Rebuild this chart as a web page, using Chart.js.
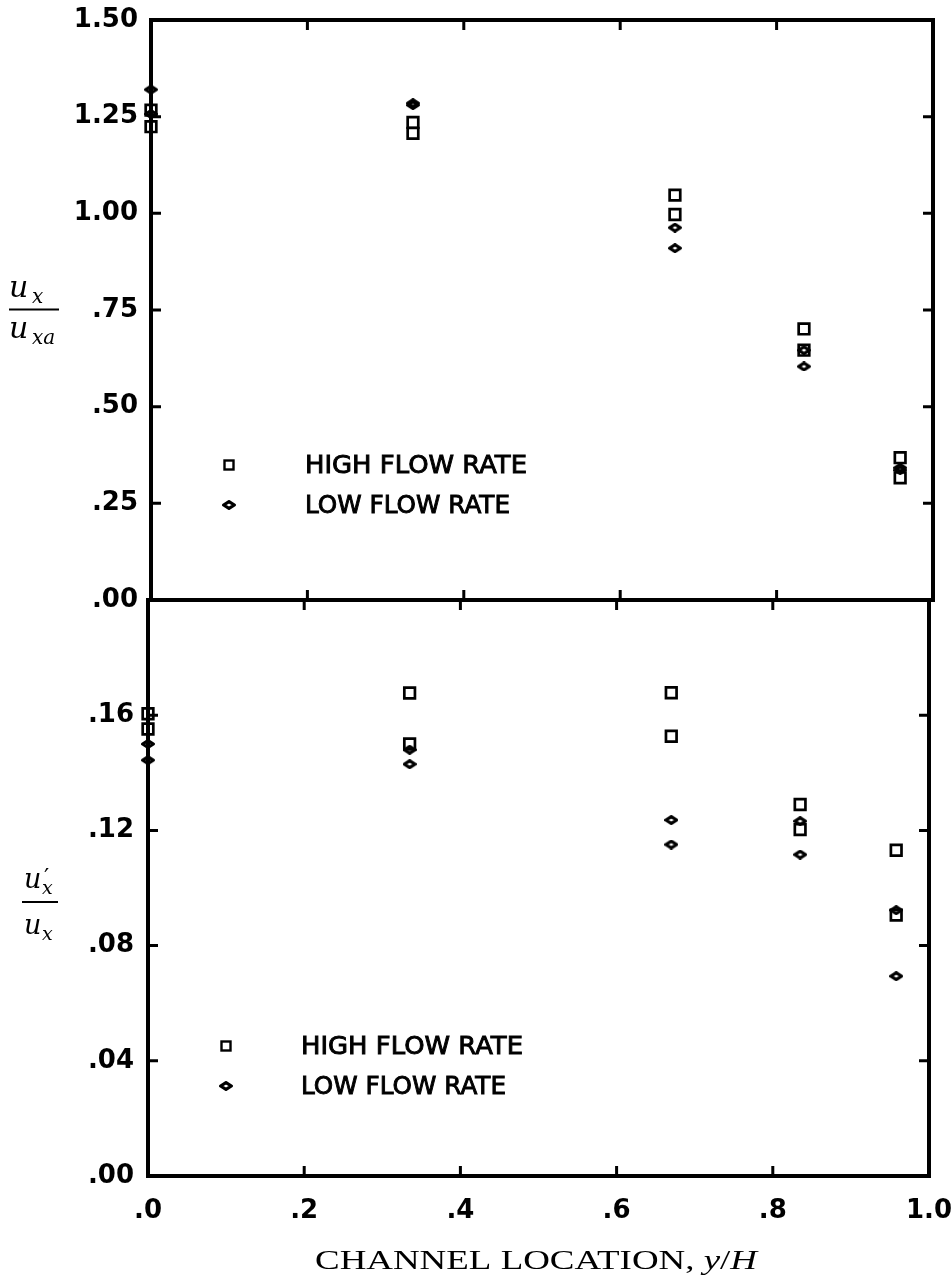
<!DOCTYPE html>
<html>
<head>
<meta charset="utf-8">
<script src="https://cdn.jsdelivr.net/npm/chart.js@4"></script>
<style>
  html, body { margin: 0; padding: 0; background: #fff; }
  body { width: 951px; height: 1288px; position: relative; overflow: hidden; }
  canvas { position: absolute; left: 0; }
  #meanChart { top: 0; }
  #turbChart { top: 590px; }
</style>
</head>
<body>
<canvas id="meanChart" width="951" height="630"></canvas>
<canvas id="turbChart" width="951" height="698"></canvas>
<script>
// channel location y/H of each probe station
const locations = [0, 0.335, 0.67, 0.835, 0.958];

// mean velocity u_x / u_xa (two runs per flow rate)
const highMeanA = [1.267, 1.235, 1.047, 0.701, 0.368];
const highMeanB = [1.224, 1.207, 0.997, 0.646, 0.316];
const lowMeanA  = [1.320, 1.285, 0.963, 0.646, 0.342];
const lowMeanB  = [1.257, 1.280, 0.910, 0.604, 0.336];

// turbulence intensity u'_x / u_x
const highTurbA = [0.1605, 0.1677, 0.1678, 0.1290, 0.1131];
const highTurbB = [0.1552, 0.1500, 0.1527, 0.1203, 0.0906];
const lowTurbA  = [0.1500, 0.1480, 0.1236, 0.1232, 0.0923];
const lowTurbB  = [0.1444, 0.1430, 0.1151, 0.1116, 0.0694];

// tick values
const xTicks = [0, 0.2, 0.4, 0.6, 0.8, 1.0];
const meanTicks = [0, 0.25, 0.5, 0.75, 1.0, 1.25, 1.5];
const turbTicks = [0, 0.04, 0.08, 0.12, 0.16];

const tickFont = { family: 'DejaVu Sans', weight: 'bold', size: 26 };
const fmt2 = v => v.toFixed(2).replace(/^0\./, '.');
const fmt1 = v => v.toFixed(1).replace(/^0\./, '.');

function makeDiamond(w, h, lw) {
  const c = document.createElement('canvas');
  c.width = w; c.height = h;
  const g = c.getContext('2d');
  g.strokeStyle = '#000';
  g.lineWidth = lw;
  g.lineJoin = 'round';
  g.beginPath();
  g.moveTo(lw / 2, h / 2);
  g.lineTo(w / 2, lw / 2);
  g.lineTo(w - lw / 2, h / 2);
  g.lineTo(w / 2, h - lw / 2);
  g.closePath();
  g.stroke();
  return c;
}
const diamond = makeDiamond(14, 10, 3.2);

function pts(ys) {
  return locations.map((x, i) => ({ x: x, y: ys[i] }));
}
function squareSet(label, ys) {
  return { label, data: pts(ys), pointStyle: 'rect', pointRadius: 7.5, borderWidth: 2.7,
    borderColor: '#000', backgroundColor: 'rgba(0,0,0,0)', showLine: false, clip: false };
}
function diamondSet(label, ys) {
  return { label, data: pts(ys), pointStyle: diamond, pointRadius: 6, borderWidth: 0,
    borderColor: '#000', backgroundColor: '#000', showLine: false, clip: false };
}

// box with inward tick marks on all four sides
const framePlugin = {
  id: 'frame',
  beforeDatasetsDraw(chart) {
    const { ctx, chartArea: a, scales } = chart;
    ctx.save();
    ctx.strokeStyle = '#000';
    ctx.lineWidth = 4;
    ctx.strokeRect(a.left, a.top, a.right - a.left, a.bottom - a.top);
    ctx.lineWidth = 3;
    const len = 10;
    scales.x.ticks.forEach(t => {
      if (t.value <= scales.x.min || t.value >= scales.x.max) return;
      const px = scales.x.getPixelForValue(t.value);
      ctx.beginPath();
      ctx.moveTo(px, a.top); ctx.lineTo(px, a.top + len);
      ctx.moveTo(px, a.bottom); ctx.lineTo(px, a.bottom - len);
      ctx.stroke();
    });
    scales.y.ticks.forEach(t => {
      if (t.value <= scales.y.min || t.value >= scales.y.max) return;
      const py = scales.y.getPixelForValue(t.value);
      ctx.beginPath();
      ctx.moveTo(a.left, py); ctx.lineTo(a.left + len, py);
      ctx.moveTo(a.right, py); ctx.lineTo(a.right - len, py);
      ctx.stroke();
    });
    ctx.restore();
  }
};

function fitText(ctx, text, x, y, width) {
  const w = ctx.measureText(text).width;
  ctx.save();
  ctx.translate(x, y);
  ctx.scale(width / w, 1);
  ctx.fillText(text, 0, 0);
  ctx.strokeText(text, 0, 0);
  ctx.restore();
}

// legend, y-axis fraction and x title
const decorPlugin = {
  id: 'decor',
  afterDraw(chart, args, o) {
    const ctx = chart.ctx;
    ctx.save();
    ctx.fillStyle = '#000';
    ctx.strokeStyle = '#000';

    // legend
    const L = o.legend;
    ctx.lineWidth = 2.4;
    ctx.strokeRect(L.x - 4.5, L.yHigh - 4.5, 9, 9);
    ctx.drawImage(diamond, L.x - diamond.width / 2, L.yLow - diamond.height / 2);
    ctx.font = '24px "DejaVu Sans"';
    ctx.textBaseline = 'middle';
    ctx.lineWidth = 0.9;
    fitText(ctx, 'HIGH FLOW RATE', L.textX, L.yHigh + 2, 222);
    fitText(ctx, 'LOW FLOW RATE', L.textX, L.yLow + 2, 205);

    // fraction label
    const F = o.fraction;
    ctx.textBaseline = 'alphabetic';
    ctx.font = 'italic ' + F.size + 'px "DejaVu Serif"';
    ctx.fillText('u', F.x, F.numBase);
    ctx.fillText('u', F.x, F.denBase);
    ctx.font = 'italic ' + F.sub + 'px "DejaVu Serif"';
    ctx.fillText(F.numSub, F.subX, F.numBase + 6);
    ctx.fillText(F.denSub, F.subX, F.denBase + 6);
    if (F.prime) {
      ctx.font = (F.sub + 4) + 'px "DejaVu Serif"';
      ctx.fillText('\u2032', F.subX + 2, F.numBase - 4);
    }
    ctx.lineWidth = 2;
    ctx.beginPath();
    ctx.moveTo(F.lineX0, F.lineY);
    ctx.lineTo(F.lineX1, F.lineY);
    ctx.stroke();

    // x-axis title
    if (o.title) {
      const T = o.title;
      const parts = [
        ['CHANNEL LOCATION, ', '27px "Liberation Serif"'],
        ['y', 'italic 27px "Liberation Serif"'],
        ['/', '27px "Liberation Serif"'],
        ['H', 'italic 27px "Liberation Serif"']
      ];
      let w = 0;
      parts.forEach(p => { ctx.font = p[1]; w += ctx.measureText(p[0]).width; });
      ctx.translate(T.x, T.base);
      ctx.scale(T.width / w, 1);
      let cx = 0;
      parts.forEach(p => { ctx.font = p[1]; ctx.fillText(p[0], cx, 0); cx += ctx.measureText(p[0]).width; });
    }
    ctx.restore();
  }
};

function fixWidth(w) {
  return s => { s.width = w; s.paddingTop = 0; s.paddingBottom = 0; };
}
function fixHeight(h) {
  return s => { s.height = h; s.paddingLeft = 0; s.paddingRight = 0; };
}

new Chart(document.getElementById('meanChart'), {
  type: 'scatter',
  data: {
    datasets: [
      squareSet('HIGH FLOW RATE', highMeanA),
      squareSet('HIGH FLOW RATE', highMeanB),
      diamondSet('LOW FLOW RATE', lowMeanA),
      diamondSet('LOW FLOW RATE', lowMeanB)
    ]
  },
  options: {
    responsive: false,
    animation: false,
    layout: { autoPadding: false, padding: { top: 20, right: 18, left: 0, bottom: 0 } },
    plugins: {
      legend: { display: false },
      tooltip: { enabled: false },
      decor: {
        legend: { x: 229, yHigh: 465, yLow: 505, textX: 305 },
        fraction: { x: 9, subX: 32, size: 30, sub: 20, numBase: 297, denBase: 338,
          numSub: 'x', denSub: 'xa', lineX0: 9, lineX1: 59, lineY: 309.5 }
      }
    },
    scales: {
      x: {
        type: 'linear', min: 0, max: 1,
        afterBuildTicks: s => { s.ticks = xTicks.map(v => ({ value: v })); },
        afterFit: fixHeight(30),
        grid: { display: false, drawTicks: false },
        border: { display: false },
        ticks: { display: false }
      },
      y: {
        min: 0, max: 1.5,
        afterBuildTicks: s => { s.ticks = meanTicks.map(v => ({ value: v })); },
        afterFit: fixWidth(151),
        grid: { display: false, drawTicks: false },
        border: { display: false },
        ticks: { color: '#000', font: tickFont, padding: 13, callback: v => fmt2(v) }
      }
    }
  },
  plugins: [framePlugin, decorPlugin]
});

new Chart(document.getElementById('turbChart'), {
  type: 'scatter',
  data: {
    datasets: [
      squareSet('HIGH FLOW RATE', highTurbA),
      squareSet('HIGH FLOW RATE', highTurbB),
      diamondSet('LOW FLOW RATE', lowTurbA),
      diamondSet('LOW FLOW RATE', lowTurbB)
    ]
  },
  options: {
    responsive: false,
    animation: false,
    layout: { autoPadding: false, padding: { top: 10, right: 22, left: 0, bottom: 0 } },
    plugins: {
      legend: { display: false },
      tooltip: { enabled: false },
      decor: {
        legend: { x: 226, yHigh: 456, yLow: 496, textX: 301 },
        fraction: { x: 24, subX: 42, size: 27, sub: 19, numBase: 298, denBase: 344,
          numSub: 'x', denSub: 'x', prime: true, lineX0: 22, lineX1: 58, lineY: 312 },
        title: { x: 315, base: 679, width: 442 }
      }
    },
    scales: {
      x: {
        type: 'linear', min: 0, max: 1,
        afterBuildTicks: s => { s.ticks = xTicks.map(v => ({ value: v })); },
        afterFit: fixHeight(112),
        grid: { display: false, drawTicks: false },
        border: { display: false },
        ticks: { color: '#000', font: tickFont, padding: 20, maxRotation: 0, callback: v => fmt1(v) }
      },
      y: {
        min: 0, max: 0.2,
        afterBuildTicks: s => { s.ticks = turbTicks.map(v => ({ value: v })); },
        afterFit: fixWidth(148),
        grid: { display: false, drawTicks: false },
        border: { display: false },
        ticks: { color: '#000', font: tickFont, padding: 14, callback: v => fmt2(v) }
      }
    }
  },
  plugins: [framePlugin, decorPlugin]
});
</script>
</body>
</html>
